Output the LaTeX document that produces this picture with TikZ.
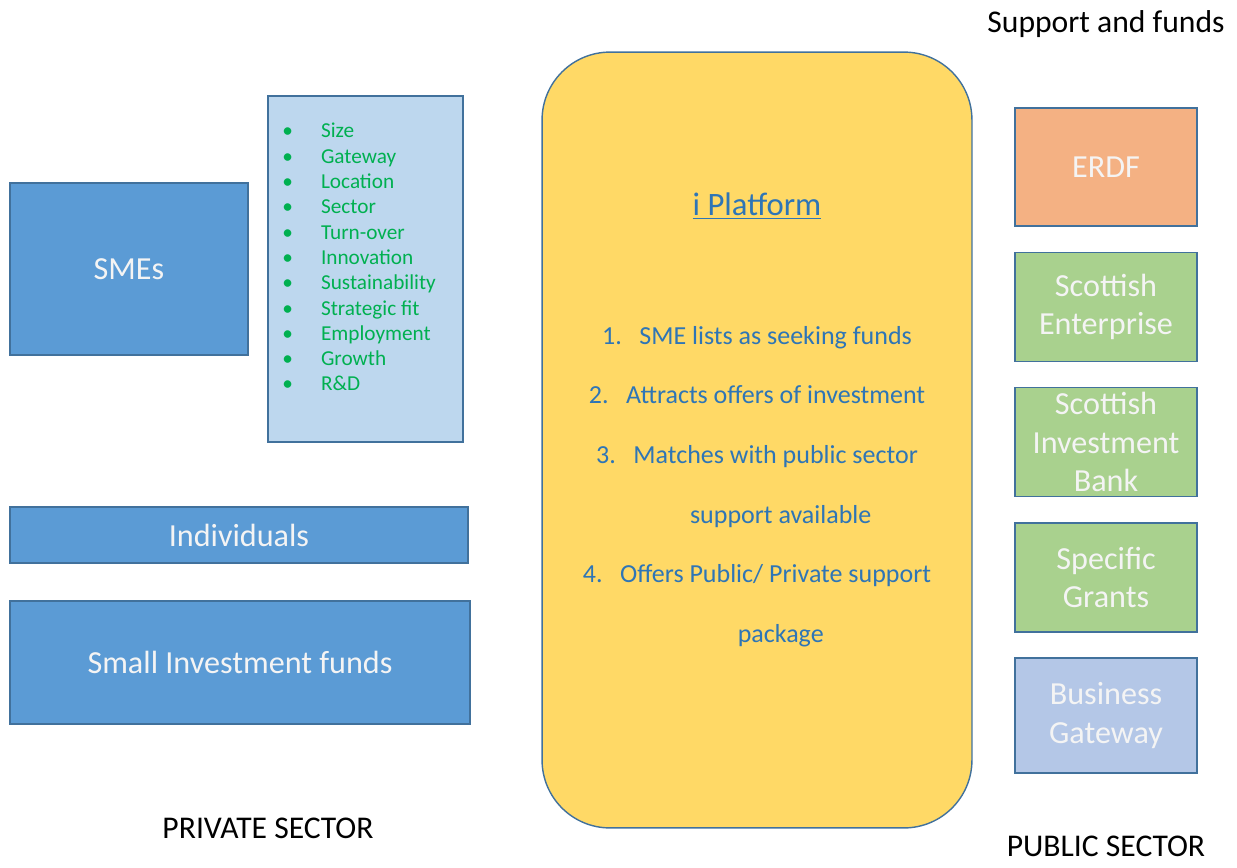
\documentclass[tikz,border=0pt]{standalone}
\usepackage{fontspec}
\setmainfont{Carlito}
\usepackage{xcolor}
\usepackage{tikz}
\usetikzlibrary{positioning}
\definecolor{edge}{HTML}{41719C}
\definecolor{smeblue}{HTML}{5B9BD5}
\definecolor{paleblue}{HTML}{BDD7EE}
\definecolor{critgreen}{HTML}{00B050}
\definecolor{gold}{HTML}{FFD966}
\definecolor{platblue}{HTML}{2E75B6}
\definecolor{peach}{HTML}{F4B183}
\definecolor{leaf}{HTML}{A9D18E}
\definecolor{lavender}{HTML}{B4C7E7}
\definecolor{boxtext}{HTML}{F4F4F4}

\begin{document}
\begin{tikzpicture}[
  x=0.02cm,y=-0.02cm,
  box/.style={draw=edge,line width=0.8pt,align=center,inner sep=2pt,text=boxtext,
    font=\fontsize{18.3}{22}\selectfont},
  private/.style={box,fill=smeblue},
  public/.style={box,minimum width=3.64cm,minimum height=2.18cm},
  caption/.style={font=\fontsize{18}{21}\selectfont,text=black},
]
\useasboundingbox (0,0) rectangle (1237,867);

% --- private sector
\node[private,minimum width=4.76cm,minimum height=3.44cm] (smes) at (129,269) {SMEs};
\node[box,fill=paleblue,minimum width=3.9cm,minimum height=6.92cm] (crit) at (365.5,269) {};
\node[anchor=north west,align=left,text=critgreen,inner sep=0pt,
  font=\fontsize{12.1}{14.4}\selectfont] (critlist) at (282,123)
  {\textbullet\hspace*{16pt}Size\\
   \textbullet\hspace*{16pt}Gateway\\
   \textbullet\hspace*{16pt}Location\\
   \textbullet\hspace*{16pt}Sector\\
   \textbullet\hspace*{16pt}Turn-over\\
   \textbullet\hspace*{16pt}Innovation\\
   \textbullet\hspace*{16pt}Sustainability\\
   \textbullet\hspace*{16pt}Strategic fit\\
   \textbullet\hspace*{16pt}Employment\\
   \textbullet\hspace*{16pt}Growth\\
   \textbullet\hspace*{16pt}R\&D};
\node[private,minimum width=9.16cm,minimum height=1.12cm] (indiv) at (239,535) {Individuals};
\node[private,minimum width=9.2cm,minimum height=2.46cm] (smallfunds) at (240,662.5) {Small Investment funds};
\node[caption] (privlbl) at (268,828) {PRIVATE SECTOR};

% --- platform
\node[draw=edge,line width=0.8pt,fill=gold,rounded corners=1.36cm,
  minimum width=8.6cm,minimum height=15.52cm] (platform) at (757,440) {};
\node[text=platblue,font=\fontsize{18.6}{22}\selectfont] (ptitle) at (757,206) {\underline{i Platform}};
\node[text=platblue,align=center,anchor=north,inner sep=0pt,
  font=\fontsize{14.8}{33.9}\selectfont] (steps) at (757,326)
  {1.\hspace*{10pt}SME lists as seeking funds\\
   2.\hspace*{10pt}Attracts offers of investment\\
   3.\hspace*{10pt}Matches with public sector\\
   \hspace*{27pt}support available\\
   4.\hspace*{10pt}Offers Public/ Private support\\
   \hspace*{27pt}package};

% --- public sector
\node[caption] (supportlbl) at (1106,24) {Support and funds};
\node[public,fill=peach,minimum height=2.36cm] (erdf) at (1106,167) {ERDF};
\node[public,fill=leaf,below=0.5cm of erdf] (scotent) {Scottish\\Enterprise};
\node[public,fill=leaf,below=0.5cm of scotent] (sib) {Scottish\\Investment\\Bank};
\node[public,fill=leaf,below=0.5cm of sib] (grants) {Specific\\Grants};
\node[public,fill=lavender,minimum height=2.3cm,below=0.49cm of grants] (bizgw) {Business\\Gateway};
\node[caption] (publbl) at (1106,846) {PUBLIC SECTOR};
\end{tikzpicture}
\end{document}
